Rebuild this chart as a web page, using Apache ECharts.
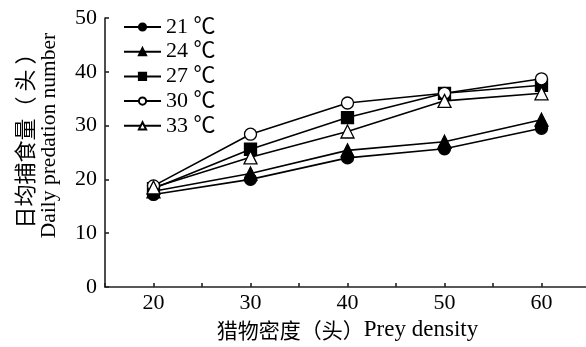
<!DOCTYPE html>
<html>
<head>
<meta charset="utf-8">
<script src="https://cdn.jsdelivr.net/npm/echarts@6/dist/echarts.min.js"></script>
<style>
  html, body { margin: 0; padding: 0; background: #fff; }
  #chart { width: 586px; height: 347px; }
</style>
</head>
<body>
<div id="chart"></div>
<script>
  // prey density (x) and daily predation per temperature
  var density = [20, 30, 40, 50, 60];
  var t21 = [17.2, 20.0, 24.0, 25.7, 29.5];
  var t24 = [17.8, 21.1, 25.4, 27.0, 31.1];
  var t27 = [18.3, 25.6, 31.5, 36.0, 37.5];
  var t30 = [18.8, 28.4, 34.2, 36.0, 38.7];
  var t33 = [18.5, 24.1, 28.9, 34.6, 36.0];
  var legendNames = ['21 ℃', '24 ℃', '27 ℃', '30 ℃', '33 ℃'];
  var yTicks = [0, 10, 20, 30, 40, 50];

  var serif = '"Liberation Serif", "Times New Roman", "Noto Sans CJK SC", serif';
  var cjk = '"Noto Sans CJK SC", "Liberation Serif", serif';

  function pairs(vals) {
    var out = [];
    for (var i = 0; i < density.length; i++) out.push([density[i], vals[i]]);
    return out;
  }

  function makeSeries(name, vals, symbol, fill, size) {
    return {
      name: name,
      type: 'line',
      data: pairs(vals),
      symbol: symbol,
      symbolSize: size,
      showSymbol: true,
      lineStyle: { color: '#000', width: 1.6 },
      itemStyle: { color: fill, borderColor: '#000', borderWidth: 1.3 },
      emphasis: { disabled: true },
      animation: false
    };
  }

  var chart = echarts.init(document.getElementById('chart'));
  var option = {
    backgroundColor: '#fff',
    animation: false,
    legend: {
      orient: 'vertical',
      left: 118,
      top: 11,
      itemWidth: 37,
      itemHeight: 9,
      itemGap: 2.7,
      data: legendNames,
      textStyle: { fontFamily: serif, fontSize: 22, color: '#000' }
    },
    grid: { left: 105, top: 18, width: 485, height: 269, outerBoundsMode: 'none', containLabel: false },
    xAxis: {
      type: 'value',
      min: 15,
      max: 65,
      interval: 5,
      name: '{c|猎物密度（头）}{e|Prey density}',
      nameLocation: 'middle',
      nameGap: 27,
      nameTextStyle: {
        rich: {
          c: { fontFamily: cjk, fontSize: 21, color: '#000', lineHeight: 25 },
          e: { fontFamily: serif, fontSize: 23, color: '#000', lineHeight: 25 }
        }
      },
      axisLine: { lineStyle: { color: '#222', width: 1.6 } },
      axisTick: { inside: true, length: 4, lineStyle: { color: '#222', width: 1.6 } },
      axisLabel: {
        fontFamily: serif, fontSize: 22, color: '#000', margin: 5,
        formatter: function (v) { return density.indexOf(v) >= 0 ? String(v) : ''; }
      },
      splitLine: { show: false }
    },
    yAxis: {
      type: 'value',
      min: yTicks[0],
      max: yTicks[yTicks.length - 1],
      interval: 10,
      name: '{c|日均捕食量（ 头 ）}\n{e|Daily predation number}',
      nameLocation: 'middle',
      nameGap: 43,
      nameTextStyle: {
        align: 'center',
        padding: [0, 0, 0, 34],
        rich: {
          c: { fontFamily: cjk, fontSize: 22, color: '#000', lineHeight: 25 },
          e: { fontFamily: serif, fontSize: 21.5, color: '#000', lineHeight: 25 }
        }
      },
      axisLine: { show: true, lineStyle: { color: '#222', width: 1.6 } },
      axisTick: { show: true, inside: true, length: 4, lineStyle: { color: '#222', width: 1.6 } },
      axisLabel: { fontFamily: serif, fontSize: 22, color: '#000', margin: 8 },
      splitLine: { show: false }
    },
    series: [
      makeSeries(legendNames[0], t21, 'circle', '#000', 12),
      makeSeries(legendNames[1], t24, 'triangle', '#000', 13),
      makeSeries(legendNames[2], t27, 'rect', '#000', 12),
      makeSeries(legendNames[3], t30, 'circle', '#fff', 12),
      makeSeries(legendNames[4], t33, 'triangle', '#fff', 13)
    ]
  };
  chart.setOption(option);
</script>
</body>
</html>
